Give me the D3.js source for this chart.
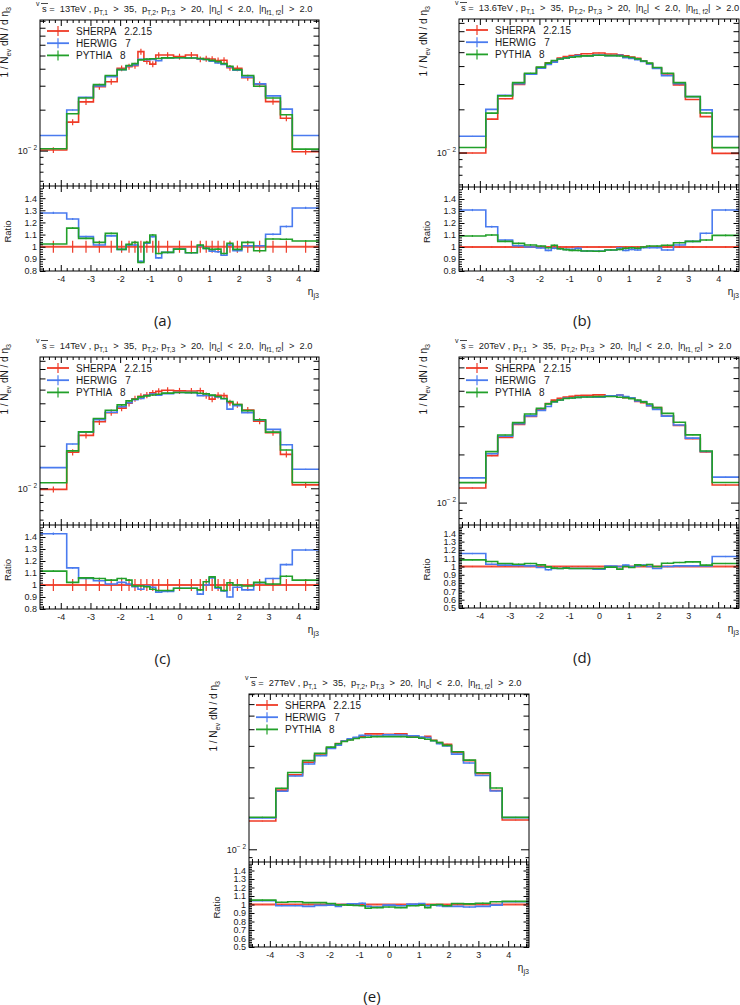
<!DOCTYPE html>
<html>
<head>
<meta charset="utf-8">
<script src="https://cdn.jsdelivr.net/npm/d3@7"></script>
<style>
body { margin: 0; background: #fff; }
svg { display: block; }
text { font-family: "Liberation Sans", Arial, sans-serif; fill: #1a1a1a; }
</style>
</head>
<body>
<script>
// bin edges in eta_3
const edges = [-4.7, -3.8, -3.4, -2.9, -2.5, -2.1, -1.8, -1.6, -1.4, -1.2, -1.0, -0.8, -0.6, -0.2,
  0.2, 0.6, 0.8, 1.0, 1.2, 1.4, 1.6, 1.8, 2.1, 2.5, 2.9, 3.4, 3.8, 4.7];

const energies = ["13", "13.6", "14", "20", "27"];
const captions = ["(a)", "(b)", "(c)", "(d)", "(e)"];
const generators = ["SHERPA   2.2.15", "HERWIG   7", "PYTHIA   8"];

// SHERPA 1/N dN/deta per bin, and HERWIG / PYTHIA ratios to SHERPA
const sherpaA = [0.0101, 0.0162, 0.0228, 0.0295, 0.0321, 0.0403, 0.0414, 0.0421, 0.0534, 0.0454, 0.0432, 0.0504, 0.0504, 0.0491,
  0.0505, 0.0469, 0.0474, 0.0471, 0.0460, 0.0462, 0.0406, 0.0403, 0.0344, 0.0307, 0.0229, 0.0173, 0.0098];
const herwigA = [1.278, 1.228, 1.083, 1.014, 1.089, 0.978, 1.014, 1.014, 0.88, 1.028, 1.083, 0.908, 0.953, 0.98,
  0.95, 1.008, 0.986, 0.964, 0.958, 0.93, 1.014, 0.967, 1.008, 1.008, 1.103, 1.167, 1.319];
const pythiaA = [1.022, 1.153, 1.069, 1.036, 1.11, 0.978, 1.019, 1.036, 0.87, 1.036, 1.097, 0.944, 0.953, 0.98,
  0.95, 1.014, 0.986, 0.978, 0.98, 0.944, 1.028, 0.978, 1.036, 0.967, 1.064, 1.061, 1.047];

const sherpaB = [0.00992, 0.0171, 0.0237, 0.0298, 0.0351, 0.0390, 0.0422, 0.0431, 0.0455, 0.0466, 0.0474, 0.0479, 0.0487, 0.0494,
  0.0485, 0.0480, 0.0471, 0.0462, 0.0454, 0.0434, 0.0416, 0.0388, 0.0352, 0.0296, 0.0234, 0.0178, 0.00987];
const herwigB = [1.308, 1.169, 1.058, 1.011, 1.0, 0.992, 0.972, 0.989, 0.986, 0.98, 0.98, 0.989, 0.967, 0.967,
  0.975, 0.992, 0.972, 0.98, 0.975, 0.994, 0.994, 0.994, 0.975, 1.017, 1.047, 1.114, 1.308];
const pythiaB = [1.092, 1.1, 1.047, 1.03, 1.017, 1.008, 0.994, 1.014, 0.986, 0.978, 0.972, 0.972, 0.967, 0.964,
  0.975, 0.98, 0.989, 0.994, 0.989, 1.0, 1.008, 1.008, 1.014, 1.036, 1.047, 1.058, 1.097];

const sherpaC = [0.00982, 0.0180, 0.0237, 0.0296, 0.0343, 0.0370, 0.0400, 0.0431, 0.0448, 0.0458, 0.0474, 0.0486, 0.0495, 0.0490,
  0.0489, 0.0491, 0.0454, 0.0428, 0.0456, 0.0453, 0.0404, 0.0392, 0.0358, 0.0299, 0.0248, 0.0174, 0.01057];
const herwigC = [1.427, 1.143, 1.054, 1.035, 1.008, 1.022, 1.008, 0.986, 0.965, 0.992, 0.981, 0.941, 0.946, 0.973,
  0.973, 0.924, 1.0, 1.059, 0.973, 0.951, 0.9, 0.981, 0.959, 1.019, 1.054, 1.17, 1.292];
const pythiaC = [1.116, 1.022, 1.059, 1.054, 1.041, 1.054, 1.041, 0.992, 0.992, 0.986, 0.965, 0.954, 0.954, 0.973,
  0.973, 0.959, 1.027, 1.068, 0.981, 0.954, 1.019, 1.0, 0.992, 1.022, 1.008, 1.073, 1.041];

const sherpaD = [0.01235, 0.01965, 0.02556, 0.03074, 0.03456, 0.03814, 0.04157, 0.04367, 0.04488, 0.0456, 0.0462, 0.0466, 0.0468, 0.0471,
  0.0464, 0.0470, 0.0453, 0.0452, 0.0429, 0.0421, 0.0404, 0.0392, 0.0347, 0.0303, 0.0251, 0.0207, 0.01288];
const herwigD = [1.156, 1.028, 1.016, 1.012, 1.008, 0.988, 0.96, 0.976, 0.976, 0.984, 0.976, 0.976, 0.976, 0.968,
  1.004, 1.0, 1.016, 1.0, 1.008, 1.016, 1.0, 0.976, 1.0, 1.008, 1.008, 1.008, 1.12];
const pythiaD = [1.08, 1.06, 1.036, 1.028, 1.036, 1.02, 0.996, 0.98, 0.976, 0.98, 0.976, 0.976, 0.976, 0.976,
  0.992, 0.968, 1.0, 0.988, 1.02, 1.012, 1.024, 1.0, 1.04, 1.048, 1.056, 1.016, 1.036];

const sherpaE = [0.0146, 0.0221, 0.0271, 0.0321, 0.0354, 0.0389, 0.0413, 0.0426, 0.0436, 0.0446, 0.0454, 0.0470, 0.0470, 0.0467,
  0.0470, 0.0456, 0.0456, 0.0446, 0.0454, 0.0431, 0.0418, 0.0409, 0.0366, 0.0328, 0.0275, 0.0220, 0.0148];
const herwigE = [1.044, 0.985, 0.985, 0.978, 0.99, 0.993, 0.978, 1.0, 1.007, 1.007, 1.015, 0.978, 0.97, 0.993,
  0.985, 1.004, 1.004, 1.011, 0.985, 0.993, 0.985, 0.978, 0.978, 0.97, 0.978, 0.993, 1.033];
const pythiaE = [1.052, 1.026, 1.033, 1.022, 1.022, 1.011, 0.996, 0.996, 0.993, 0.989, 0.985, 0.956, 0.963, 0.97,
  0.963, 0.985, 0.985, 0.993, 0.963, 0.996, 1.0, 0.985, 1.011, 1.007, 1.015, 1.033, 1.037];

// relative stat. errors (SHERPA per panel, HERWIG/PYTHIA)
const sherpaErr = [0.05, 0.007, 0.05, 0.007, 0.005];
const mcErr = 0.007;

const red = "#ef3a26", blue = "#4a7bef", green = "#22a02a";

const layout = [
  { x: 40, w: 279, top: 20, mid: 186, bot: 271, logMin: -2.26, logMax: -1.04, rMin: 0.8 },
  { x: 459, w: 280, top: 19, mid: 187, bot: 271, logMin: -2.24, logMax: -1.07, rMin: 0.8 },
  { x: 40, w: 279, top: 357, mid: 525, bot: 609, logMin: -2.26, logMax: -1.07, rMin: 0.8 },
  { x: 459, w: 280, top: 357, mid: 525, bot: 608, logMin: -2.14, logMax: -1.09, rMin: 0.5 },
  { x: 249, w: 280, top: 694, mid: 862, bot: 947, logMin: -2.074, logMax: -1.096, rMin: 0.5 }
];

const svg = d3.select("body").append("svg").attr("width", 740).attr("height", 1005);

// text with sub/superscripts: parts = [[string, "n"|"sub"|"sup"], ...]
function rich(t, parts, fs) {
  let shift = 0;
  parts.forEach(([s, k]) => {
    const target = k === "sub" ? fs * 0.3 : k === "sup" ? -fs * 0.45 : 0;
    t.append("tspan")
      .attr("dy", target - shift)
      .attr("font-size", k === "n" ? fs : fs * 0.72)
      .text(s);
    shift = target;
  });
}

function tickAxis(g, axisFn, scale, vals, size, tx, ty, fmt, pad) {
  const ax = axisFn(scale).tickValues(vals).tickSize(size).tickPadding(pad || 3)
    .tickFormat(fmt || (() => ""));
  const a = g.append("g").attr("transform", `translate(${tx},${ty})`).call(ax);
  a.select(".domain").remove();
  a.attr("font-family", null).attr("font-size", 9);
  return a;
}

function drawPanel(idx, sherpa, hr, pr) {
  const p = layout[idx];
  const g = svg.append("g");
  const x = d3.scaleLinear().domain([edges[0], edges[edges.length - 1]]).range([p.x, p.x + p.w]);
  const y = d3.scaleLog().domain([Math.pow(10, p.logMin), Math.pow(10, p.logMax)]).range([p.mid, p.top]);
  const yr = d3.scaleLinear().domain([p.rMin, 1.5]).range([p.bot, p.mid]);

  const clipTop = "ct" + idx, clipRat = "cr" + idx;
  g.append("clipPath").attr("id", clipTop).append("rect")
    .attr("x", p.x).attr("y", p.top).attr("width", p.w).attr("height", p.mid - p.top);
  g.append("clipPath").attr("id", clipRat).append("rect")
    .attr("x", p.x).attr("y", p.mid).attr("width", p.w).attr("height", p.bot - p.mid);

  const series = [
    { color: red, vals: sherpa, ratio: sherpa.map(() => 1), err: sherpaErr[idx] },
    { color: blue, vals: sherpa.map((v, i) => v * hr[i]), ratio: hr, err: mcErr },
    { color: green, vals: sherpa.map((v, i) => v * pr[i]), ratio: pr, err: mcErr }
  ];

  const steps = vals => {
    const a = vals.map((v, i) => [edges[i], v]);
    a.push([edges[edges.length - 1], vals[vals.length - 1]]);
    return a;
  };
  const centers = d3.range(edges.length - 1).map(i => (edges[i] + edges[i + 1]) / 2);

  const top = g.append("g").attr("clip-path", `url(#${clipTop})`);
  const rat = g.append("g").attr("clip-path", `url(#${clipRat})`);

  series.forEach((s, k) => {
    const lt = d3.line().x(d => x(d[0])).y(d => y(d[1])).curve(d3.curveStepAfter);
    const lr = d3.line().x(d => x(d[0])).y(d => yr(d[1])).curve(d3.curveStepAfter);
    top.append("path").attr("d", lt(steps(s.vals)))
      .attr("fill", "none").attr("stroke", s.color).attr("stroke-width", 1.6);
    top.selectAll(null).data(s.vals).join("line")
      .attr("x1", (d, i) => x(centers[i])).attr("x2", (d, i) => x(centers[i]))
      .attr("y1", d => y(d * (1 - s.err))).attr("y2", d => y(d * (1 + s.err)))
      .attr("stroke", s.color).attr("stroke-width", 1.2);

    rat.append("path").attr("d", lr(steps(s.ratio)))
      .attr("fill", "none").attr("stroke", s.color)
      .attr("stroke-width", k === 0 ? 2 : 1.6).attr("opacity", k === 0 ? 0.9 : 1);
    rat.selectAll(null).data(s.ratio).join("line")
      .attr("x1", (d, i) => x(centers[i])).attr("x2", (d, i) => x(centers[i]))
      .attr("y1", d => yr(d - d * s.err)).attr("y2", d => yr(d + d * s.err))
      .attr("stroke", s.color).attr("stroke-width", 1.2);
  });

  // frames
  g.append("rect").attr("x", p.x).attr("y", p.top).attr("width", p.w).attr("height", p.bot - p.top)
    .attr("fill", "none").attr("stroke", "#000").attr("stroke-width", 1);
  g.append("line").attr("x1", p.x).attr("x2", p.x + p.w).attr("y1", p.mid).attr("y2", p.mid)
    .attr("stroke", "#000").attr("stroke-width", 1);

  // x ticks
  const xMajor = d3.range(-4, 5);
  const xMinor = d3.range(-46, 47, 2).map(d => d / 10).filter(d => !Number.isInteger(d));
  [[d3.axisTop, p.top], [d3.axisBottom, p.mid], [d3.axisTop, p.mid]].forEach(([fn, yy]) => {
    tickAxis(g, fn, x, xMajor, -6, 0, yy);
    tickAxis(g, fn, x, xMinor, -3, 0, yy);
  });
  tickAxis(g, d3.axisBottom, x, xMajor, -6, 0, p.bot, d => String(d), 5);
  tickAxis(g, d3.axisBottom, x, xMinor, -3, 0, p.bot);

  // log y ticks
  const [lo, hi] = y.domain();
  const inside = v => v >= lo && v <= hi;
  const small = [0.005, 0.006, 0.007, 0.008, 0.009].filter(inside);
  const medium = [0.02, 0.03, 0.04, 0.05, 0.06, 0.07, 0.08, 0.09].filter(inside);
  [[d3.axisLeft, p.x], [d3.axisRight, p.x + p.w]].forEach(([fn, xx]) => {
    tickAxis(g, fn, y, small, -3.5, xx, 0);
    tickAxis(g, fn, y, medium, -5.5, xx, 0);
    tickAxis(g, fn, y, [0.01], -8, xx, 0);
  });
  const lab = g.append("text").attr("x", p.x - 3).attr("y", y(0.01) + 3.5).attr("text-anchor", "end");
  rich(lab, [["10", "n"], ["\u2212 2", "sup"]], 9);

  // ratio y ticks
  const rMajor = d3.range(Math.round(p.rMin * 10), 15).map(d => d / 10);
  const rMinor = d3.range(Math.round(p.rMin * 50), 75).map(d => d / 50).filter(d => Math.abs(d * 10 - Math.round(d * 10)) > 1e-6);
  tickAxis(g, d3.axisLeft, yr, rMajor, -5.5, p.x, 0, d => String(+d.toFixed(1)), 3);
  tickAxis(g, d3.axisLeft, yr, rMinor, -3, p.x, 0);
  tickAxis(g, d3.axisRight, yr, rMajor, -5.5, p.x + p.w, 0);
  tickAxis(g, d3.axisRight, yr, rMinor, -3, p.x + p.w, 0);

  // axis titles
  const yt = g.append("text").attr("text-anchor", "end")
    .attr("transform", `translate(${p.x - 32},${p.top - 13}) rotate(-90)`);
  rich(yt, [["1 / N", "n"], ["ev", "sub"], [" dN / d \u03b7", "n"], ["3", "sub"]], 10);
  g.append("text").attr("text-anchor", "middle").attr("font-size", 9.5)
    .attr("transform", `translate(${p.x - 29},${(p.mid + p.bot) / 2 + 3}) rotate(-90)`)
    .text("Ratio");
  const xt = g.append("text").attr("text-anchor", "end").attr("x", p.x + p.w).attr("y", p.bot + 24);
  rich(xt, [["\u03b7", "n"], ["j3", "sub"]], 10);

  // title
  const tx = p.x + 2, ty = p.top - 8;
  g.append("text").attr("x", tx - 6).attr("y", ty - 6).attr("font-size", 7).text("v");
  g.append("line").attr("x1", tx - 1).attr("x2", tx + 6).attr("y1", ty - 8.5).attr("y2", ty - 8.5)
    .attr("stroke", "#1a1a1a").attr("stroke-width", 0.8);
  const tt = g.append("text").attr("x", tx).attr("y", ty).style("white-space", "pre");
  rich(tt, [["s =  " + energies[idx] + "TeV , p", "n"], ["T,1", "sub"], ["  >  35,  p", "n"], ["T,2", "sub"],
    [", p", "n"], ["T,3", "sub"], ["  >  20,  |\u03b7", "n"], ["c", "sub"], ["|  <  2.0,  |\u03b7", "n"],
    ["f1, f2", "sub"], ["|  >  2.0", "n"]], 9.3);

  // legend
  series.forEach((s, k) => {
    const cy = p.top + 11 + k * 12.2;
    g.append("line").attr("x1", p.x + 7).attr("x2", p.x + 29).attr("y1", cy).attr("y2", cy)
      .attr("stroke", s.color).attr("stroke-width", 1.8);
    g.append("line").attr("x1", p.x + 18).attr("x2", p.x + 18).attr("y1", cy - 5).attr("y2", cy + 5)
      .attr("stroke", s.color).attr("stroke-width", 1.2);
    g.append("text").attr("x", p.x + 36).attr("y", cy + 3.5).attr("font-size", 10)
      .style("white-space", "pre").text(generators[k]);
  });

  // caption
  g.append("text").attr("x", p.x + p.w / 2 - 17).attr("y", p.bot + 55).attr("text-anchor", "middle")
    .attr("font-size", 15).style("font-family", "'Open Sans', sans-serif").text(captions[idx]);
}

drawPanel(0, sherpaA, herwigA, pythiaA);
drawPanel(1, sherpaB, herwigB, pythiaB);
drawPanel(2, sherpaC, herwigC, pythiaC);
drawPanel(3, sherpaD, herwigD, pythiaD);
drawPanel(4, sherpaE, herwigE, pythiaE);
</script>
</body>
</html>
